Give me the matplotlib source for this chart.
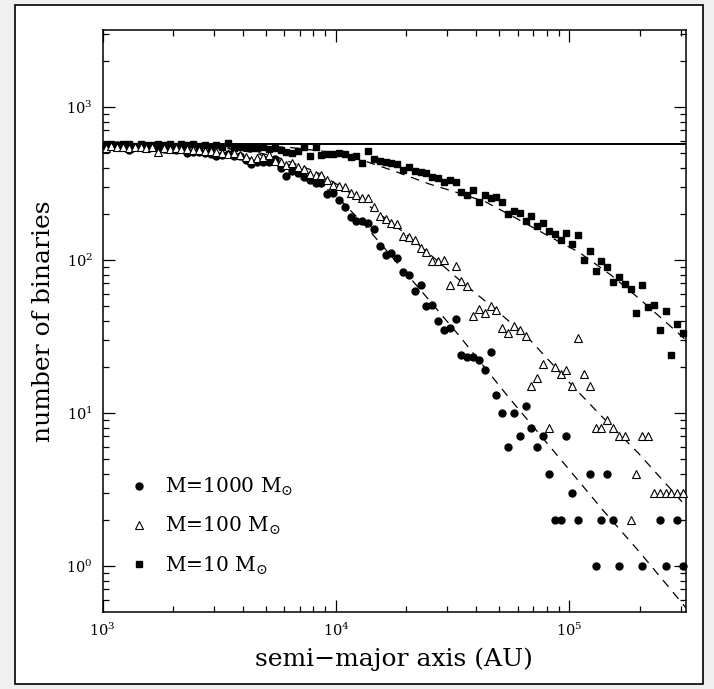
import numpy as np
import matplotlib
matplotlib.use("Agg")
import matplotlib.pyplot as plt
from matplotlib.patches import Rectangle

plt.rcParams['font.family'] = ['DejaVu Serif']
plt.rcParams['mathtext.fontset'] = 'dejavuserif'

# log10 of semi-major axis bin centres (AU)
log_a = [3.0125, 3.0375, 3.0625, 3.0875, 3.1125, 3.1375, 3.1625, 3.1875, 3.2125, 3.2375,
         3.2625, 3.2875, 3.3125, 3.3375, 3.3625, 3.3875, 3.4125, 3.4375, 3.4625, 3.4875,
         3.5125, 3.5375, 3.5625, 3.5875, 3.6125, 3.6375, 3.6625, 3.6875, 3.7125, 3.7375,
         3.7625, 3.7875, 3.8125, 3.8375, 3.8625, 3.8875, 3.9125, 3.9375, 3.9625, 3.9875,
         4.0125, 4.0375, 4.0625, 4.0875, 4.1125, 4.1375, 4.1625, 4.1875, 4.2125, 4.2375,
         4.2625, 4.2875, 4.3125, 4.3375, 4.3625, 4.3875, 4.4125, 4.4375, 4.4625, 4.4875,
         4.5125, 4.5375, 4.5625, 4.5875, 4.6125, 4.6375, 4.6625, 4.6875, 4.7125, 4.7375,
         4.7625, 4.7875, 4.8125, 4.8375, 4.8625, 4.8875, 4.9125, 4.9375, 4.9625, 4.9875,
         5.0125, 5.0375, 5.0625, 5.0875, 5.1125, 5.1375, 5.1625, 5.1875, 5.2125, 5.2375,
         5.2625, 5.2875, 5.3125, 5.3375, 5.3625, 5.3875, 5.4125, 5.4375, 5.4625, 5.4875]

# number of binaries (0 = empty bin)
n_1000 = [548, 555, 562, 550, 521, 545, 548, 540, 552, 535,
          530, 545, 520, 528, 496, 508, 505, 500, 490, 476,
          485, 489, 476, 479, 450, 421, 437, 437, 437, 455,
          396, 352, 380, 371, 347, 332, 319, 316, 270, 274,
          247, 222, 191, 180, 180, 173, 160, 123, 108, 111,
          102, 83, 79, 63, 68, 50, 51, 40, 35, 36,
          41, 24, 23, 23, 22, 19, 25, 13, 10, 6,
          10, 7, 11, 8, 6, 7, 4, 2, 2, 7,
          3, 2, 0, 4, 1, 2, 4, 2, 1, 0,
          0, 0, 1, 0, 0, 2, 1, 0, 2, 1]

n_100 = [540, 552, 545, 548, 538, 550, 542, 535, 545, 504,
         540, 532, 538, 528, 530, 520, 525, 512, 518, 505,
         500, 492, 498, 485, 470, 449, 460, 471, 483, 444,
         437, 416, 427, 405, 390, 363, 361, 361, 330, 307,
         303, 300, 272, 265, 254, 252, 220, 194, 184, 173,
         171, 143, 140, 135, 120, 113, 98, 98, 100, 68,
         91, 73, 67, 43, 48, 45, 50, 47, 36, 33,
         37, 35, 32, 15, 17, 21, 8, 20, 18, 19,
         15, 31, 18, 15, 8, 8, 9, 8, 7, 7,
         2, 4, 7, 7, 3, 3, 3, 3, 3, 3]

n_10 = [565, 572, 560, 575, 568, 558, 570, 562, 566, 575,
        560, 570, 555, 568, 560, 575, 552, 565, 548, 560,
        548, 580, 540, 550, 548, 535, 535, 545, 527, 540,
        521, 508, 500, 513, 548, 476, 543, 483, 489, 495,
        500, 489, 467, 479, 431, 515, 453, 444, 438, 431,
        421, 385, 402, 380, 376, 367, 348, 344, 324, 332,
        324, 278, 267, 288, 237, 265, 254, 256, 237, 199,
        208, 201, 179, 194, 166, 173, 154, 147, 135, 149,
        126, 145, 100, 115, 84, 98, 90, 72, 77, 69,
        64, 45, 68, 49, 51, 35, 46, 24, 38, 33]

# model curves (dashed)
fit_a_1000 = [1000, 2000, 3160, 4470, 6310, 7940, 10000, 13200, 17800, 24000,
              33900, 55000, 85100, 141000, 200000, 295000, 316000]
fit_n_1000 = [569, 562, 543, 501, 417, 339, 263, 170, 100, 58.9,
              31.6, 12.6, 5.69, 2.26, 1.23, 0.603, 0.531]

fit_a_100 = [1000, 2510, 3980, 5620, 8220, 10700, 13900, 19100, 25900, 33700,
             46700, 65900, 104000, 136000, 198000, 274000, 316000]
fit_n_100 = [569, 562, 531, 468, 376, 295, 224, 155, 105, 74.1,
             49.3, 31.4, 14.8, 9.66, 5.43, 3.13, 2.45]

fit_a_10 = [1000, 3160, 6310, 10000, 13000, 17800, 25100, 33100, 43800, 60700,
            79400, 110000, 151000, 198000, 274000, 316000]
fit_n_10 = [569, 565, 543, 501, 447, 380, 313, 275, 239, 183,
            146, 112, 79.4, 56.2, 36.3, 29.9]

n_initial = 570

labels = ['M=1000 M$_{\\odot}$', 'M=100 M$_{\\odot}$', 'M=10 M$_{\\odot}$']

a = 10 ** np.array(log_a)

def pos(x, y):
    x = np.asarray(x, float)
    y = np.asarray(y, float)
    m = y > 0
    return x[m], y[m]

fig = plt.figure(figsize=(7.14, 6.89), dpi=100)
fig.patch.set_facecolor('#f0f0f0')
fig.patches.append(Rectangle((15 / 714, 5 / 689), 688 / 714, 679 / 689,
                             transform=fig.transFigure, facecolor='white',
                             edgecolor='black', linewidth=1.2, zorder=-10))

ax = fig.add_axes([102.7 / 714, 77.3 / 689, 583.3 / 714, 581.4 / 689])
ax.set_xscale('log')
ax.set_yscale('log')
ax.set_xlim(1e3, 10 ** 5.5)
ax.set_ylim(10 ** -0.3, 10 ** 3.5)

dash = (0, (7, 5.5))
ax.axhline(n_initial, color='black', lw=1.4, zorder=1)
ax.plot(fit_a_1000, fit_n_1000, color='black', lw=0.9, ls=dash, zorder=1)
ax.plot(fit_a_100, fit_n_100, color='black', lw=0.9, ls=dash, zorder=1)
ax.plot(fit_a_10, fit_n_10, color='black', lw=0.9, ls=dash, zorder=1)

x, y = pos(a, n_1000)
h1, = ax.plot(x, y, 'o', ms=5.0, color='black', mec='black', zorder=3, clip_on=False)
x, y = pos(a, n_100)
h2, = ax.plot(x, y, '^', ms=5.2, mfc='white', mec='black', mew=0.8, zorder=4, clip_on=False)
x, y = pos(a, n_10)
h3, = ax.plot(x, y, 's', ms=3.9, color='black', zorder=3, clip_on=False)

ax.tick_params(which='both', direction='in', top=True, right=True, width=0.9,
               labelsize=10.5, colors='black')
ax.tick_params(which='major', length=8.5, pad=7)
ax.tick_params(which='minor', length=4.3)
for s in ax.spines.values():
    s.set_linewidth(1.1)

ax.set_xlabel('semi\u2212major axis (AU)', fontsize=18, labelpad=6)
ax.set_ylabel('number of binaries', fontsize=18, labelpad=8)

ax.legend([h1, h2, h3], labels, loc='lower left', bbox_to_anchor=(0.045, 0.06),
          frameon=False, fontsize=14.5, handlelength=1.0, handletextpad=0.8,
          labelspacing=0.85, borderaxespad=0, borderpad=0, numpoints=1)

fig.savefig('out.png', dpi=100, facecolor=fig.get_facecolor())
